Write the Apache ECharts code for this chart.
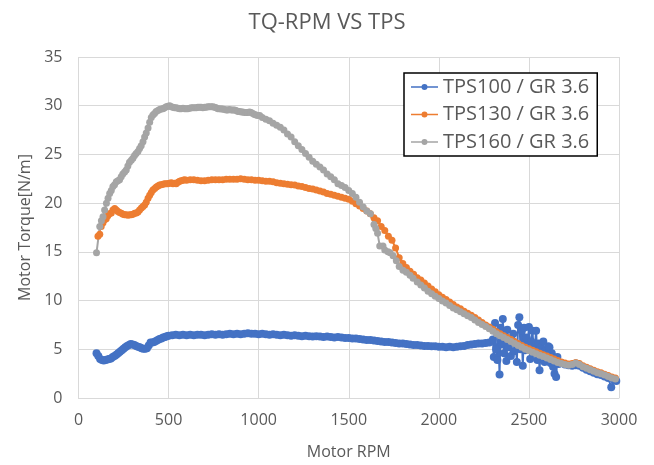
<!DOCTYPE html>
<html><head><meta charset="utf-8">
<script src="https://cdn.jsdelivr.net/npm/echarts@6/dist/echarts.min.js"></script>
<style>html,body{margin:0;padding:0;background:#fff}#c{width:654px;height:465px}</style>
</head><body><div id="c"></div>
<script>
const xTicks = [0, 500, 1000, 1500, 2000, 2500, 3000];
const yTicks = [0, 5, 10, 15, 20, 25, 30, 35];
const seriesNames = ['TPS100 / GR 3.6', 'TPS130 / GR 3.6', 'TPS160 / GR 3.6'];

const tps100 = [
[100,4.6],[110,4.3],[120,4.0],[130,3.9],[140,3.85],[150,3.9],[160,3.95],[170,4.0],[180,4.05],[190,4.2],
[200,4.3],[210,4.45],[220,4.6],[230,4.75],[240,4.9],[250,5.05],[260,5.2],[270,5.35],[280,5.45],[290,5.55],
[300,5.5],[310,5.45],[320,5.35],[330,5.25],[340,5.2],[350,5.1],[360,5.05],[370,5.05],[380,5.1],[390,5.4],
[400,5.7],[410,5.7],[420,5.75],[430,5.85],[440,5.95],[450,6.05],[460,6.1],[470,6.2],[480,6.25],[490,6.35],
[500,6.4],[520,6.45],[540,6.5],[560,6.45],[580,6.5],[600,6.45],[620,6.5],[640,6.45],[660,6.5],[680,6.5],
[700,6.45],[720,6.5],[740,6.55],[760,6.5],[780,6.55],[800,6.5],[820,6.55],[840,6.6],[860,6.55],[880,6.6],
[900,6.55],[920,6.6],[940,6.65],[960,6.6],[980,6.6],[1000,6.55],[1020,6.6],[1040,6.55],[1060,6.5],[1080,6.55],
[1100,6.5],[1120,6.45],[1140,6.5],[1160,6.45],[1180,6.4],[1200,6.45],[1220,6.4],[1240,6.35],[1260,6.4],[1280,6.35],
[1300,6.3],[1320,6.35],[1340,6.3],[1360,6.25],[1380,6.3],[1400,6.25],[1420,6.2],[1440,6.25],[1460,6.2],[1480,6.15],
[1500,6.15],[1520,6.1],[1540,6.1],[1560,6.05],[1580,6.0],[1600,5.95],[1620,5.95],[1640,5.9],[1660,5.85],[1680,5.8],
[1700,5.75],[1720,5.75],[1740,5.7],[1760,5.65],[1780,5.6],[1800,5.6],[1820,5.55],[1840,5.5],[1860,5.45],[1880,5.45],
[1900,5.4],[1920,5.35],[1940,5.35],[1960,5.3],[1980,5.3],[2000,5.25],[2020,5.25],[2040,5.2],[2060,5.25],[2080,5.2],
[2100,5.25],[2120,5.3],[2140,5.35],[2160,5.45],[2180,5.5],[2200,5.55],[2220,5.6],[2240,5.6],[2260,5.65],[2280,5.7],
[2300,6.0],[2305,4.2],[2312,7.7],[2318,5.0],[2325,3.9],[2330,6.8],[2337,2.4],[2343,7.2],[2350,5.5],[2355,8.1],
[2362,4.6],[2368,6.3],[2375,3.8],[2380,7.0],[2387,5.2],[2393,6.1],[2400,4.3],[2407,5.9],[2413,6.6],[2420,4.8],
[2427,5.6],[2433,3.7],[2440,7.5],[2447,8.3],[2453,5.0],[2460,6.9],[2466,3.3],[2473,7.2],[2480,4.9],[2487,6.2],
[2493,5.4],[2500,7.3],[2507,4.0],[2513,5.8],[2520,6.9],[2527,4.6],[2533,5.3],[2540,6.9],[2547,3.9],[2553,5.6],
[2559,2.85],[2566,5.2],[2573,4.5],[2580,5.8],[2587,3.7],[2593,4.9],[2600,4.3],[2607,5.3],[2614,5.2],[2620,3.6],
[2627,4.6],[2634,3.2],[2642,2.5],[2651,2.15],[2658,4.2],[2665,3.5],[2680,3.6],[2700,3.45],[2720,3.35],[2740,3.3],
[2760,3.35],[2780,3.3],[2800,3.1],[2820,2.9],[2840,2.75],[2860,2.6],[2880,2.45],[2900,2.35],[2920,2.2],[2940,2.05],
[2957,1.1],[2970,1.9],[2985,1.75],[3003,1.65]
];

const tps130 = [
[108,16.6],[118,16.8],[126,17.6],[136,18.0],[145,18.3],[154,18.4],[163,18.7],[172,18.9],[182,19.0],[191,19.3],
[201,19.45],[210,19.3],[219,19.15],[228,19.05],[238,18.95],[247,18.85],[256,18.8],[265,18.8],[275,18.75],[284,18.8],
[293,18.8],[302,18.85],[312,18.95],[321,19.0],[330,19.1],[339,19.3],[349,19.5],[358,19.65],[367,19.8],[376,20.1],
[386,20.5],[395,20.8],[404,21.1],[413,21.35],[423,21.5],[432,21.65],[441,21.75],[450,21.85],[459,21.9],[469,21.95],
[478,22.0],[487,22.0],[496,22.0],[505,22.05],[515,22.1],[524,22.0],[533,22.05],[542,22.0],[552,22.15],[561,22.25],
[570,22.3],[580,22.35],[589,22.4],[600,22.35],[620,22.4],[640,22.4],[660,22.35],[680,22.3],[700,22.3],[720,22.35],
[740,22.4],[760,22.4],[780,22.4],[800,22.4],[820,22.45],[840,22.45],[860,22.45],[880,22.45],[900,22.5],[920,22.45],
[940,22.4],[960,22.4],[980,22.35],[1000,22.35],[1020,22.3],[1040,22.25],[1060,22.25],[1080,22.2],[1100,22.1],[1120,22.05],
[1140,22.0],[1160,21.95],[1180,21.9],[1200,21.85],[1220,21.75],[1240,21.7],[1260,21.6],[1280,21.5],[1300,21.45],[1320,21.35],
[1340,21.25],[1360,21.15],[1380,21.0],[1400,20.9],[1420,20.8],[1440,20.7],[1460,20.6],[1480,20.5],[1500,20.4],[1520,20.2],
[1540,19.95],[1560,19.7],[1580,19.45],[1600,19.2],[1620,18.9],[1640,18.5],[1660,18.2],[1680,17.6],[1700,17.2],[1720,16.6],
[1740,16.2],[1760,15.4],[1780,14.4],[1800,13.8],[1820,13.4],[1840,13.0],[1860,12.7],[1880,12.35],[1900,12.1],[1920,11.8],
[1940,11.5],[1960,11.2],[1980,10.9],[2000,10.6],[2020,10.35],[2040,10.1],[2060,9.85],[2080,9.6],[2100,9.35],[2120,9.15],
[2140,8.9],[2160,8.7],[2180,8.5],[2200,8.25],[2220,8.0],[2240,7.75],[2260,7.5],[2280,7.3],[2300,7.05],[2320,6.8],
[2340,6.6],[2360,6.4],[2380,6.2],[2400,6.0],[2420,5.8],[2440,5.6],[2460,5.4],[2480,5.2],[2500,5.05],[2520,4.9],
[2540,4.75],[2560,4.6],[2580,4.45],[2600,4.3],[2620,4.15],[2640,4.0],[2660,3.85],[2680,3.7],[2700,3.6],[2720,3.5],
[2740,3.55],[2760,3.65],[2780,3.55],[2800,3.3],[2820,3.15],[2840,3.0],[2860,2.85],[2880,2.7],[2900,2.6],[2920,2.45],
[2940,2.3],[2960,2.15],[2980,2.05]
];

const tps160 = [
[100,14.9],[118,17.6],[127,18.2],[136,18.6],[145,19.3],[155,20.0],[164,20.5],[173,21.0],[182,21.3],[191,21.7],
[200,21.9],[210,22.2],[219,22.3],[228,22.4],[237,22.7],[246,23.0],[256,23.2],[265,23.4],[274,23.8],[283,24.2],
[293,24.4],[302,24.6],[311,24.9],[320,25.1],[330,25.3],[339,25.6],[348,25.9],[358,26.3],[367,26.8],[376,27.2],
[386,27.7],[395,28.3],[404,28.8],[413,29.05],[422,29.2],[431,29.4],[441,29.5],[450,29.6],[459,29.65],[469,29.7],
[478,29.8],[487,29.9],[496,29.95],[506,30.0],[515,29.9],[524,29.85],[533,29.8],[542,29.8],[552,29.75],[561,29.7],
[570,29.7],[580,29.75],[589,29.7],[598,29.7],[607,29.7],[617,29.75],[626,29.8],[635,29.8],[644,29.8],[654,29.8],
[663,29.85],[672,29.85],[681,29.85],[690,29.8],[700,29.85],[709,29.85],[718,29.9],[727,29.9],[737,29.9],[746,29.9],
[755,29.85],[764,29.8],[774,29.7],[783,29.7],[792,29.65],[801,29.65],[811,29.6],[820,29.55],[829,29.55],[838,29.6],
[848,29.55],[857,29.55],[866,29.55],[875,29.5],[885,29.4],[894,29.4],[903,29.35],[912,29.35],[922,29.3],[931,29.3],
[940,29.3],[949,29.35],[958,29.3],[968,29.2],[977,29.1],[986,29.05],[995,29.0],[1006,29.0],[1020,28.8],[1040,28.6],
[1060,28.45],[1080,28.2],[1100,28.0],[1120,27.8],[1140,27.5],[1160,27.1],[1180,26.8],[1200,26.3],[1220,25.9],[1240,25.5],
[1260,25.1],[1280,24.7],[1300,24.3],[1320,24.0],[1340,23.7],[1360,23.4],[1380,23.0],[1400,22.7],[1420,22.4],[1440,22.0],
[1460,21.8],[1480,21.6],[1500,21.3],[1520,21.0],[1540,20.6],[1560,20.1],[1580,19.6],[1600,19.2],[1620,18.9],[1640,17.8],
[1650,17.4],[1660,16.9],[1672,15.6],[1690,15.6],[1700,15.2],[1718,15.0],[1730,14.9],[1746,14.6],[1764,14.1],[1780,13.5],
[1801,13.1],[1820,12.9],[1840,12.6],[1857,12.3],[1880,11.9],[1900,11.6],[1920,11.3],[1940,10.95],[1960,10.7],[1980,10.45],
[2000,10.2],[2020,9.95],[2040,9.75],[2060,9.5],[2080,9.25],[2100,9.05],[2120,8.85],[2140,8.65],[2160,8.45],[2180,8.25],
[2200,8.0],[2220,7.75],[2240,7.55],[2260,7.35],[2280,7.1],[2300,6.85],[2320,6.6],[2340,6.4],[2360,6.2],[2380,6.0],
[2400,5.8],[2420,5.6],[2440,5.4],[2460,5.2],[2480,5.0],[2500,4.85],[2520,4.7],[2540,4.55],[2560,4.4],[2580,4.25],
[2600,4.1],[2620,3.95],[2640,3.8],[2660,3.65],[2680,3.55],[2700,3.45],[2720,3.35],[2740,3.45],[2760,3.6],[2780,3.45],
[2800,3.2],[2820,3.05],[2840,2.9],[2860,2.75],[2880,2.6],[2900,2.5],[2920,2.35],[2940,2.2],[2960,2.05],[2980,1.95]
];

const colors = ['#4472C4', '#ED7D31', '#A5A5A5'];
const FONT = 'Open Sans';
const chart = echarts.init(document.getElementById('c'), null, {renderer: 'canvas'});

function mk(name, data, color, size) {
  return {
    name: name, type: 'line', data: data,
    symbol: 'circle', symbolSize: size, showSymbol: true,
    lineStyle: {color: color, width: 2},
    itemStyle: {color: color},
    emphasis: {disabled: true},
    animation: false
  };
}

const legendIcon = 'path://M0,2.25 L27,2.25 L27,3.75 L0,3.75 Z M10.5,3 A3,3 0 1 1 16.5,3 A3,3 0 1 1 10.5,3 Z';

chart.setOption({
  animation: false,
  color: colors,
  title: {
    text: 'TQ-RPM VS TPS', left: 'center', top: 7,
    textStyle: {fontFamily: FONT, fontSize: 22, fontWeight: 'normal', color: '#595959'}
  },
  grid: {left: 78.5, right: 35, top: 57, bottom: 67, containLabel: false},
  legend: {
    orient: 'vertical', left: 404, top: 73,
    padding: [4, 8, 4, 7],
    itemGap: 7.5, itemWidth: 27, itemHeight: 6,
    icon: legendIcon,
    borderColor: '#000', borderWidth: 1.5,
    backgroundColor: '#fff',
    textStyle: {fontFamily: FONT, fontSize: 20, color: '#595959'},
    data: seriesNames
  },
  xAxis: {
    type: 'value', min: 0, max: 3000, interval: 500,
    name: 'Motor RPM', nameLocation: 'middle', nameGap: 46,
    nameTextStyle: {fontFamily: FONT, fontSize: 16, color: '#595959'},
    axisLine: {show: true, lineStyle: {color: '#d9d9d9'}},
    axisTick: {show: false},
    axisLabel: {fontFamily: FONT, fontSize: 16, color: '#595959', margin: 14,
      formatter: v => xTicks.includes(v) ? String(v) : ''},
    splitLine: {show: true, lineStyle: {color: '#d9d9d9'}}
  },
  yAxis: {
    type: 'value', min: 0, max: 35, interval: 5,
    name: 'Motor Torque[N/m]', nameLocation: 'middle', nameGap: 41, nameRotate: 90,
    nameTextStyle: {fontFamily: FONT, fontSize: 16, color: '#595959'},
    axisLine: {show: false},
    axisTick: {show: false},
    axisLabel: {fontFamily: FONT, fontSize: 16, color: '#595959', margin: 16,
      formatter: v => yTicks.includes(v) ? String(v) : ''},
    splitLine: {show: true, lineStyle: {color: '#d9d9d9'}}
  },
  series: [
    mk(seriesNames[0], tps100, colors[0], 8),
    mk(seriesNames[1], tps130, colors[1], 7),
    mk(seriesNames[2], tps160, colors[2], 7)
  ]
});
</script></body></html>
